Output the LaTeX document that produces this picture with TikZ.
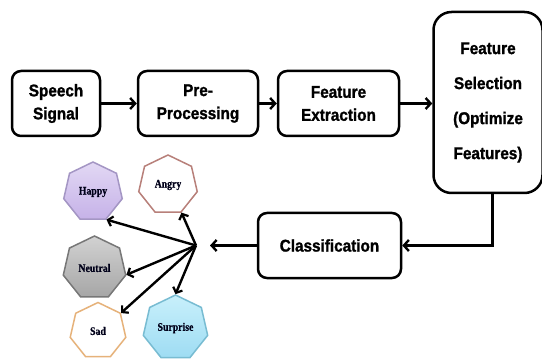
\documentclass[tikz,border=0pt]{standalone}
\usepackage{fontspec}
\newfontfamily\boxfont{Liberation Sans}[FakeStretch=0.9,FakeBold=1.3]
\newfontfamily\emofont{Liberation Serif}[FakeStretch=0.85,FakeBold=0.6]
\usetikzlibrary{shapes.geometric,arrows.meta}
\definecolor{happytop}{HTML}{E2D8F4}
\definecolor{happybot}{HTML}{C6B2E8}
\definecolor{happyline}{HTML}{A496C4}
\definecolor{angryline}{HTML}{B8807A}
\definecolor{neutraltop}{HTML}{D2D2D2}
\definecolor{neutralbot}{HTML}{A6A6A6}
\definecolor{neutralline}{HTML}{777777}
\definecolor{sadline}{HTML}{E6B27A}
\definecolor{surprisetop}{HTML}{C8F0FB}
\definecolor{surprisebot}{HTML}{9EDCF3}
\definecolor{surpriseline}{HTML}{78BCD2}

\begin{document}
\begin{tikzpicture}[x=1pt,y=-1pt,
    stage/.style={draw,line width=2.5pt,rounded corners=9pt,align=center,inner sep=0pt,
      font=\boxfont\bfseries\fontsize{17}{23}\selectfont},
    flow/.style={line width=3pt,-{Straight Barb[length=5pt,width=11pt,line width=2.4pt]}},
    spoke/.style={line width=2.4pt,-{Straight Barb[length=4.5pt,width=10pt,line width=2.2pt]}},
    emotion/.style={regular polygon,regular polygon sides=7,inner sep=0pt,line width=1.5pt,
      text=black!90!blue,font=\emofont\bfseries\fontsize{11.5}{13}\selectfont}]
    \useasboundingbox[fill=white] (0,0) rectangle (542,361);

    % processing chain
    \node[stage,minimum width=88pt,minimum height=65pt] (speech) at (56,103.5) {Speech\\Signal};
    \node[stage,minimum width=120pt,minimum height=65pt] (pre) at (198,103.5) {Pre-\\Processing};
    \node[stage,minimum width=121pt,minimum height=65pt] (fe) at (338.5,103.5) {Feature\\Extraction};
    \node[stage,minimum width=109pt,minimum height=181pt,rounded corners=18pt,
          font=\boxfont\bfseries\fontsize{17}{35}\selectfont] (fs) at (488,102.5)
          {Feature\\Selection\\(Optimize\\Features)};
    \node[stage,minimum width=143pt,minimum height=65pt] (cls) at (329.5,245.5) {Classification};
    \coordinate (hub) at (196,245.5);

    \draw[flow] (speech) -- (pre);
    \draw[flow] (pre) -- (fe);
    \draw[flow] (fe.east) -- (fe.east -| fs.west);
    \draw[flow] ([xshift=4pt]fs.south) |- (cls.east);
    \draw[flow] (cls.west) -- ([xshift=14pt]hub);

    % emotions
    \node[emotion,minimum size=60pt,draw=happyline,top color=happytop,bottom color=happybot] (happy) at (93,192) {Happy};
    \node[emotion,minimum size=60pt,draw=angryline,fill=white] (angry) at (168,185) {Angry};
    \node[emotion,minimum size=64pt,draw=neutralline,top color=neutraltop,bottom color=neutralbot] (neutral) at (94.5,268) {Neutral};
    \node[emotion,minimum size=57pt,draw=sadline,fill=white] (sad) at (98,331) {Sad};
    \node[emotion,minimum size=66pt,draw=surpriseline,top color=surprisetop,bottom color=surprisebot] (surprise) at (175.5,328) {Surprise};

    \foreach \e/\a in {happy/-64.29,angry/-64.29,neutral/-12.86,sad/38.57,surprise/90}
        \draw[spoke] (hub) -- (\e.\a);
\end{tikzpicture}
\end{document}
